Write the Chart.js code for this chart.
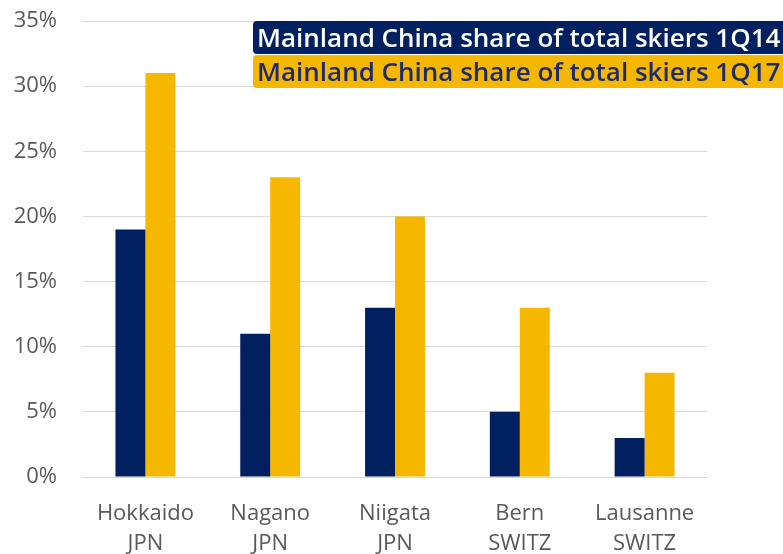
<!DOCTYPE html>
<html>
<head>
<meta charset="utf-8">
<script src="https://cdn.jsdelivr.net/npm/chart.js@4/dist/chart.umd.min.js"></script>
<style>
  html, body { margin: 0; padding: 0; background: #fff; }
  #wrap { width: 783px; height: 554px; }
</style>
</head>
<body>
<div id="wrap"><canvas id="chart"></canvas></div>
<script>
const categories = [
  ['Hokkaido', 'JPN'],
  ['Nagano', 'JPN'],
  ['Niigata', 'JPN'],
  ['Bern', 'SWITZ'],
  ['Lausanne', 'SWITZ']
]
const share1Q14 = [19, 11, 13, 5, 3]
const share1Q17 = [31, 23, 20, 13, 8]
const seriesNames = ['Mainland China share of total skiers 1Q14', 'Mainland China share of total skiers 1Q17']

const navy = '#002060'
const gold = '#F5B700'
const labelGrey = '#595959'

// legend drawn as highlighted text boxes in the top right
const boxLegend = {
  id: 'boxLegend',
  afterDraw (chart) {
    const ctx = chart.ctx
    const items = [
      { text: seriesNames[0], bg: navy, fg: '#ffffff', y: 21 },
      { text: seriesNames[1], bg: gold, fg: '#1F2A6B', y: 55 }
    ]
    ctx.save()
    ctx.font = '600 26px "Open Sans"'
    ctx.textBaseline = 'alphabetic'
    items.forEach((it) => {
      ctx.fillStyle = it.bg
      ctx.beginPath()
      ctx.roundRect(253, it.y, 540, 33, 4)
      ctx.fill()
      ctx.fillStyle = it.fg
      ctx.fillText(it.text, 257, it.y + 26)
    })
    ctx.restore()
  }
}

new Chart(document.getElementById('chart').getContext('2d'), {
  type: 'bar',
  data: {
    labels: categories,
    datasets: [
      {
        label: seriesNames[0],
        data: share1Q14,
        backgroundColor: navy,
        categoryPercentage: 0.48,
        barPercentage: 1
      },
      {
        label: seriesNames[1],
        data: share1Q17,
        backgroundColor: gold,
        categoryPercentage: 0.48,
        barPercentage: 1
      }
    ]
  },
  options: {
    responsive: true,
    maintainAspectRatio: false,
    animation: false,
    layout: { padding: { top: 21, right: 76, left: 0, bottom: 0 } },
    scales: {
      y: {
        min: 0,
        max: 35,
        border: { display: false },
        grid: { color: '#D9D9D9', lineWidth: 1, drawTicks: false },
        afterFit: (scale) => { scale.width = 83; scale.paddingTop = 0; scale.paddingBottom = 0 },
        ticks: {
          stepSize: 5,
          padding: 26,
          color: labelGrey,
          font: { family: '"Open Sans"', size: 22 },
          callback: (v) => v + '%'
        }
      },
      x: {
        border: { color: '#D9D9D9' },
        grid: { display: false },
        afterFit: (scale) => { scale.height = 77; scale.paddingTop = 0; scale.paddingBottom = 0 },
        ticks: {
          padding: 14,
          color: labelGrey,
          font: { family: '"Open Sans"', size: 22, lineHeight: 1.36 }
        }
      }
    },
    plugins: {
      legend: { display: false },
      tooltip: { enabled: false }
    }
  },
  plugins: [boxLegend]
})
</script>
</body>
</html>
